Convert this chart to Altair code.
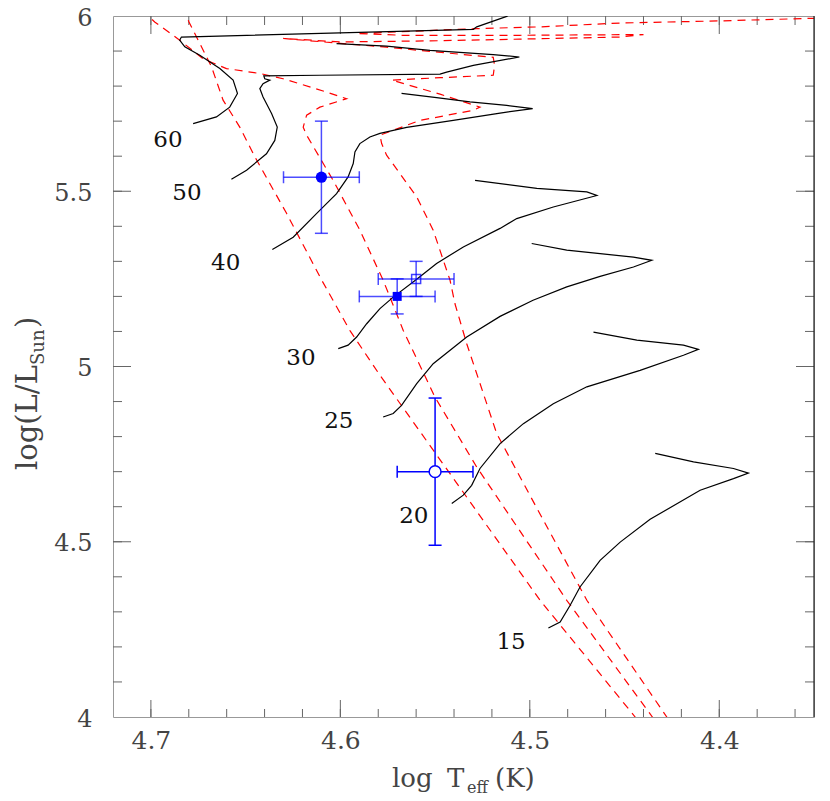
import altair as alt
import pandas as pd

FONT = "DejaVu Serif"

# ---------------- evolutionary tracks: log Teff, log(L/Lsun) ----------------
trk60_T = [4.6777, 4.6654, 4.6584, 4.6543, 4.6566, 4.6636, 4.6742, 4.6821, 4.6848, 4.6839, 4.6002, 4.5298, 4.5280, 4.5122, 4.5090]
trk60_L = [5.693, 5.712, 5.740, 5.779, 5.817, 5.850, 5.888, 5.912, 5.931, 5.940, 5.952, 5.962, 5.969, 5.999, 6.010]

trk50_T = [4.6575, 4.6495, 4.6390, 4.6346, 4.6333, 4.6363, 4.6408, 4.6425, 4.6408, 4.6372, 4.6399, 4.6404, 4.6108, 4.5474, 4.5439, 4.5298, 4.5055, 4.5193, 4.5527, 4.5756, 4.6020]
trk50_L = [5.534, 5.560, 5.607, 5.645, 5.683, 5.722, 5.769, 5.793, 5.807, 5.817, 5.821, 5.829, 5.831, 5.834, 5.840, 5.859, 5.883, 5.890, 5.902, 5.914, 5.921]

trk40_T = [4.6359, 4.6249, 4.6126, 4.6020, 4.5959, 4.5932, 4.5923, 4.5897, 4.5844, 4.5791, 4.5650, 4.5404, 4.5157, 4.4985, 4.5122, 4.5316, 4.5492, 4.5677]
trk40_L = [5.334, 5.369, 5.436, 5.493, 5.541, 5.579, 5.612, 5.636, 5.655, 5.665, 5.682, 5.702, 5.723, 5.736, 5.745, 5.755, 5.767, 5.779]

trk30_T = [4.6011, 4.5959, 4.5914, 4.5861, 4.5791, 4.5721, 4.5597, 4.5492, 4.5351, 4.5157, 4.5069, 4.4876, 4.4646, 4.4699, 4.4963, 4.5289]
trk30_L = [5.051, 5.061, 5.084, 5.122, 5.165, 5.198, 5.249, 5.294, 5.341, 5.394, 5.422, 5.455, 5.488, 5.498, 5.508, 5.531]

trk25_T = [4.5774, 4.5721, 4.5677, 4.5597, 4.5510, 4.5333, 4.5157, 4.4983, 4.4805, 4.4629, 4.4453, 4.4356, 4.4453, 4.4629, 4.4805, 4.4990]
trk25_L = [4.856, 4.866, 4.889, 4.951, 5.008, 5.084, 5.143, 5.189, 5.227, 5.257, 5.284, 5.303, 5.312, 5.322, 5.332, 5.351]

trk20_T = [4.5412, 4.5351, 4.5307, 4.5263, 4.5157, 4.5034, 4.4876, 4.4699, 4.4418, 4.4189, 4.4110, 4.4189, 4.4435, 4.4664]
trk20_L = [4.609, 4.633, 4.661, 4.709, 4.780, 4.837, 4.894, 4.942, 4.989, 5.032, 5.049, 5.061, 5.075, 5.098]

trk15_T = [4.4902, 4.4840, 4.4787, 4.4735, 4.4629, 4.4523, 4.4365, 4.4101, 4.3925, 4.3846, 4.3925, 4.4136, 4.4338]
trk15_L = [4.254, 4.271, 4.319, 4.371, 4.447, 4.499, 4.564, 4.647, 4.680, 4.696, 4.709, 4.728, 4.752]

# ---------------- isochrones (red dashed) ----------------
isoA_T = [4.4388, 4.4444, 4.4946, 4.5321, 4.5791, 4.5950, 4.6098, 4.6284, 4.6451, 4.6531, 4.6619, 4.6680, 4.6799, 4.6820]
isoA_L = [3.962, 4.000, 4.333, 4.618, 4.975, 5.103, 5.246, 5.437, 5.598, 5.683, 5.760, 5.855, 5.983, 6.010]

isoB_T = [4.4303, 4.4353, 4.4805, 4.5280, 4.5501, 4.5668, 4.5774, 4.5897, 4.6038, 4.6178, 4.6196, 4.6178, 4.6108, 4.5967, 4.6073, 4.6302, 4.6425, 4.6601, 4.6725, 4.6848, 4.6980, 4.7017]
isoB_L = [3.962, 4.000, 4.333, 4.713, 4.913, 5.103, 5.246, 5.389, 5.531, 5.660, 5.683, 5.717, 5.740, 5.764, 5.783, 5.821, 5.836, 5.850, 5.878, 5.931, 5.983, 6.002]

isoC_T = [4.4230, 4.4277, 4.4699, 4.4985, 4.5175, 4.5333, 4.5395, 4.5421, 4.5510, 4.5597, 4.5685, 4.5756, 4.5782, 4.5791,
          4.5580, 4.5298, 4.5263, 4.5474, 4.5729, 4.5474, 4.5193, 4.5186, 4.5193, 4.5527, 4.5756, 4.6002, 4.6302,
          4.6002, 4.5527, 4.5053, 4.4523, 4.4400, 4.5053, 4.5670, 4.5914, 4.5280, 4.4946, 4.4523, 4.3995, 4.3537, 4.3467]
isoC_L = [3.962, 4.000, 4.333, 4.618, 4.809, 5.065, 5.179, 5.246, 5.389, 5.484, 5.550, 5.603, 5.636, 5.660,
          5.702, 5.731, 5.740, 5.777, 5.817, 5.824, 5.831, 5.859, 5.882, 5.899, 5.911, 5.922, 5.936,
          5.926, 5.929, 5.934, 5.940, 5.947, 5.945, 5.945, 5.950, 5.964, 5.969, 5.980, 5.986, 5.993, 5.993]

# ---------------- observed stars ----------------
obs_kind = ["filled circle", "filled square", "open square", "open circle"]
obs_T = [4.61, 4.57, 4.56, 4.55]
obs_L = [5.54, 5.20, 5.25, 4.70]
obs_dT = [0.02, 0.02, 0.02, 0.02]
obs_dL = [0.16, 0.05, 0.05, 0.21]

# ---------------- mass labels ----------------
lab_text = ["60", "50", "40", "30", "25", "20", "15"]
lab_T = [4.691, 4.681, 4.6605, 4.6208, 4.6008, 4.5612, 4.5099]
lab_L = [5.645, 5.496, 5.296, 5.025, 4.844, 4.573, 4.214]

# ---------------- axis ticks ----------------
x_label_vals = [4.7, 4.6, 4.5, 4.4]
x_minor = [4.70, 4.68, 4.66, 4.64, 4.62, 4.60, 4.58, 4.56, 4.54, 4.52, 4.50,
           4.48, 4.46, 4.44, 4.42, 4.40, 4.38, 4.36]
y_label_vals = [4, 4.5, 5, 5.5, 6]
y_major = [4.5, 5.0, 5.5]
y_minor = [4.1, 4.2, 4.3, 4.4, 4.5, 4.6, 4.7, 4.8, 4.9, 5.0,
           5.1, 5.2, 5.3, 5.4, 5.5, 5.6, 5.7, 5.8, 5.9]

# ---------------- build tables ----------------
def path_table(series):
    rows = []
    for name, (ts, ls) in series.items():
        for i, (t, l) in enumerate(zip(ts, ls)):
            rows.append({"name": name, "i": i, "T": t, "L": l})
    return pd.DataFrame(rows)

track_df = path_table({"60": (trk60_T, trk60_L), "50": (trk50_T, trk50_L), "40": (trk40_T, trk40_L),
                       "30": (trk30_T, trk30_L), "25": (trk25_T, trk25_L), "20": (trk20_T, trk20_L),
                       "15": (trk15_T, trk15_L)})
iso_df = path_table({"A": (isoA_T, isoA_L), "B": (isoB_T, isoB_L), "C": (isoC_T, isoC_L)})
obs_df = pd.DataFrame({"kind": obs_kind, "T": obs_T, "L": obs_L, "dT": obs_dT, "dL": obs_dL})
lab_df = pd.DataFrame({"label": lab_text, "T": lab_T, "L": lab_L})
one = pd.DataFrame({"a": [0]})

W, H = 701, 701
TICK = "#666"
TXT = "#444"
xscale = alt.Scale(domain=[4.35, 4.72], reverse=True, nice=False, zero=False)
yscale = alt.Scale(domain=[4, 6], nice=False, zero=False)
xaxis = alt.Axis(values=x_label_vals, format=".1f", ticks=False, domain=False, grid=False,
                 labelFont=FONT, labelFontSize=25, labelColor=TXT, labelPadding=11,
                 labelOverlap=False, title=None)
yaxis = alt.Axis(values=y_label_vals, format="~g", ticks=False, domain=False, grid=False,
                 labelFont=FONT, labelFontSize=24, labelColor=TXT, labelPadding=21,
                 labelOffset=2, labelOverlap=False, title=None)

def X(f):
    return alt.X(f, type="quantitative", scale=xscale, axis=xaxis)

def Y(f):
    return alt.Y(f, type="quantitative", scale=yscale, axis=yaxis)

layers = []

# ticks (inside the frame)
def xticks(vals, length, top):
    d = pd.DataFrame({"v": vals})
    if top:
        enc = dict(y=alt.value(0), y2=alt.value(length))
    else:
        enc = dict(y=alt.value(H), y2=alt.value(H - length))
    return alt.Chart(d).mark_rule(color=TICK, strokeWidth=1).encode(x=X("v"), **enc)

def yticks(vals, length, right):
    d = pd.DataFrame({"v": vals})
    if right:
        enc = dict(x=alt.value(W), x2=alt.value(W - length))
    else:
        enc = dict(x=alt.value(0), x2=alt.value(length))
    return alt.Chart(d).mark_rule(color=TICK, strokeWidth=1).encode(y=Y("v"), **enc)

layers += [xticks(x_minor, 8, False), xticks(x_label_vals, 17, False),
           xticks(x_minor, 9, True), xticks(x_label_vals, 18, True),
           yticks(y_minor, 9, False), yticks(y_major, 18, False),
           yticks(y_minor, 9, True), yticks(y_major, 18, True)]

# isochrones and tracks
layers.append(alt.Chart(iso_df).mark_line(color="#ff0000", strokeWidth=1.2, strokeDash=[8, 6], clip=True)
              .encode(x=X("T"), y=Y("L"), detail="name:N", order="i:Q"))
layers.append(alt.Chart(track_df).mark_line(color="black", strokeWidth=1.2, clip=True)
              .encode(x=X("T"), y=Y("L"), detail="name:N", order="i:Q"))

# error bars
obs = alt.Chart(obs_df).transform_calculate(
    Tlo="datum.T - datum.dT", Thi="datum.T + datum.dT",
    Llo="datum.L - datum.dL", Lhi="datum.L + datum.dL")
op = alt.condition("datum.kind == 'open circle'", alt.value(1.0), alt.value(0.7))
BLUE = "#0000ff"
layers.append(obs.mark_rule(color=BLUE, strokeWidth=1.5).encode(x=X("Tlo"), x2="Thi:Q", y=Y("L"), opacity=op))
layers.append(obs.mark_rule(color=BLUE, strokeWidth=1.5).encode(x=X("T"), y=Y("Llo"), y2="Lhi:Q", opacity=op))
for f in ["Tlo", "Thi"]:
    layers.append(obs.mark_tick(color=BLUE, size=12, thickness=1.5, orient="vertical")
                  .encode(x=X(f), y=Y("L"), opacity=op))
for f in ["Llo", "Lhi"]:
    layers.append(obs.mark_tick(color=BLUE, size=13, thickness=1.5, orient="horizontal")
                  .encode(x=X("T"), y=Y(f), opacity=op))

layers.append(obs.transform_filter("datum.kind == 'filled circle'")
              .mark_point(shape="circle", filled=True, size=127, color=BLUE, opacity=1)
              .encode(x=X("T"), y=Y("L")))
layers.append(obs.transform_filter("datum.kind == 'filled square'")
              .mark_point(shape="square", filled=True, size=81, color=BLUE, opacity=1)
              .encode(x=X("T"), y=Y("L")))
layers.append(obs.transform_filter("datum.kind == 'open square'")
              .mark_point(shape="square", filled=False, size=81, color=BLUE, strokeWidth=1.5, opacity=0.75)
              .encode(x=X("T"), y=Y("L")))
layers.append(obs.transform_filter("datum.kind == 'open circle'")
              .mark_point(shape="circle", filled=True, size=140, color="white", stroke=BLUE,
                          strokeWidth=1.5, opacity=1)
              .encode(x=X("T"), y=Y("L")))

# mass labels
layers.append(alt.Chart(lab_df).mark_text(font=FONT, fontSize=23, color="#111")
              .encode(x=X("T"), y=Y("L"), text="label:N"))

# right frame edge (dark)
layers.append(alt.Chart(one).mark_rule(color="#222", strokeWidth=1.2)
              .encode(x=alt.value(W), y=alt.value(0), y2=alt.value(H)))

# axis titles built from text pieces (subscripts)
def txt(s, x, y, size, angle=0, align="left"):
    return alt.Chart(one).mark_text(font=FONT, fontSize=size, color=TXT, align=align,
                                    baseline="alphabetic", angle=angle).encode(
        x=alt.value(x), y=alt.value(y), text=alt.value(s))

layers += [txt("log", 279, 771, 26), txt("T", 334, 771, 26), txt("eff", 354, 777, 16),
           txt("(K)", 382, 771, 26)]
layers += [txt("log(L/L", -76, 454, 29, angle=270), txt("Sun", -69, 349, 18, angle=270),
           txt(")", -76, 312, 29, angle=270)]

chart = alt.layer(*layers).properties(
    width=W, height=H,
    padding={"left": 105, "top": 8, "right": 8, "bottom": 82},
    autosize=alt.AutoSizeParams(type="none"),
).configure_view(stroke="#999", strokeWidth=1)

chart.save("out.html", embed_options={"renderer": "svg", "actions": False})
